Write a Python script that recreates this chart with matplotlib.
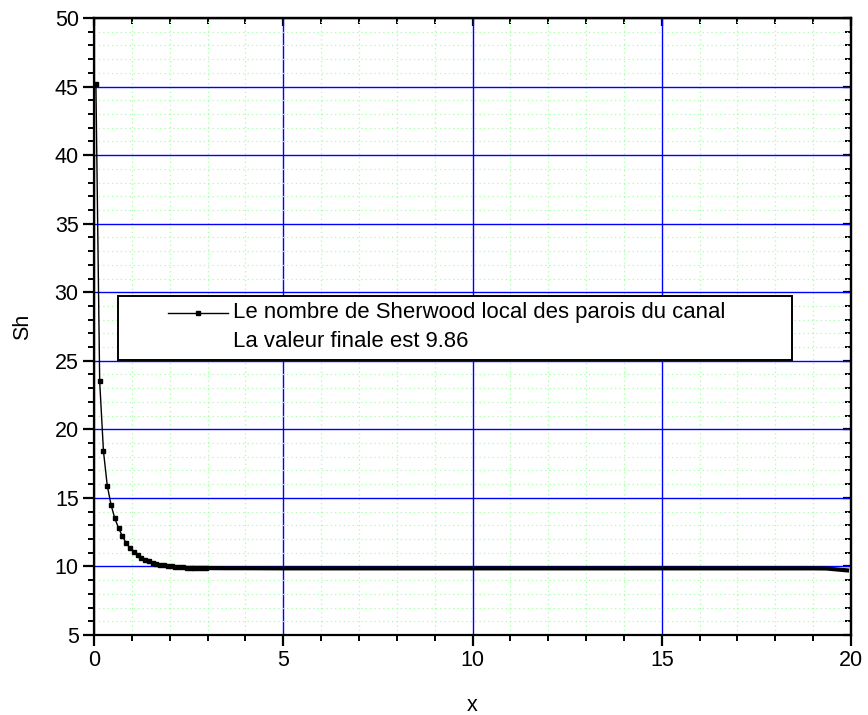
import matplotlib
matplotlib.use("Agg")
import matplotlib.pyplot as plt
from matplotlib.patches import Rectangle
from matplotlib.ticker import MultipleLocator

plt.rcParams['font.family'] = ['Liberation Sans', 'DejaVu Sans']

# local Sherwood number along the channel wall
x_head = [0.05, 0.15, 0.25, 0.35, 0.45, 0.55, 0.65, 0.75, 0.85, 0.95,
          1.05, 1.15, 1.25, 1.35, 1.45, 1.55, 1.65, 1.75, 1.85, 1.95,
          2.05, 2.15, 2.25, 2.35, 2.45, 2.55, 2.65, 2.75, 2.85, 2.95]
sh_head = [45.2, 23.5, 18.4, 15.9, 14.5, 13.5, 12.8, 12.2, 11.7, 11.35,
           11.05, 10.82, 10.63, 10.49, 10.38, 10.28, 10.2, 10.13, 10.08, 10.04,
           10.0, 9.97, 9.95, 9.93, 9.92, 9.91, 9.9, 9.89, 9.88, 9.88]

# flat part of the curve, where the markers merge into a thick line
x_tail = [2.95, 3.5, 4.0, 5.0, 6.0, 7.0, 8.0, 9.0, 10.0, 11.0, 12.0,
          13.0, 14.0, 15.0, 16.0, 17.0, 18.0, 19.0, 19.35, 19.55, 19.75, 19.95]
sh_tail = [9.88, 9.87, 9.87, 9.86, 9.86, 9.86, 9.86, 9.86, 9.86, 9.86, 9.86,
           9.86, 9.86, 9.86, 9.86, 9.86, 9.86, 9.86, 9.85, 9.8, 9.75, 9.7]

legend_lines = ["Le nombre de Sherwood local des parois du canal",
                "La valeur finale est 9.86"]

fig = plt.figure(figsize=(8.68, 7.15), dpi=100)
ax = fig.add_axes([94 / 868, 1 - 635 / 715, 757 / 868, 617 / 715])

ax.set_xlim(0, 20)
ax.set_ylim(5, 50)

# grid: blue major, green dotted minor
ax.xaxis.set_major_locator(MultipleLocator(5))
ax.xaxis.set_minor_locator(MultipleLocator(1))
ax.yaxis.set_major_locator(MultipleLocator(5))
ax.yaxis.set_minor_locator(MultipleLocator(1))
ax.set_axisbelow(True)
ax.grid(which='minor', color='#a6ffa6', linestyle=(0, (1, 2.5)), linewidth=0.9)
ax.grid(which='major', color='#0000ff', linestyle='-', linewidth=1.0)

# curve
ax.plot(x_head, sh_head, color='black', linewidth=1.0, marker='s',
        markersize=2.4, zorder=3)
ax.plot(x_tail, sh_tail, color='black', linewidth=3.0, solid_capstyle='butt',
        zorder=3)

# ticks: left/bottom outward, top/right inward
for sp in ax.spines.values():
    sp.set_linewidth(1.6)
ax.tick_params(which='major', direction='out', length=8, width=1.6,
               labelsize=15.5, pad=3)
ax.tick_params(which='minor', direction='out', length=4.5, width=1.4)

top = ax.secondary_xaxis('top')
top.xaxis.set_major_locator(MultipleLocator(5))
top.xaxis.set_minor_locator(MultipleLocator(1))
top.tick_params(which='major', direction='in', length=5.5, width=1.6, labeltop=False)
top.tick_params(which='minor', direction='in', length=4.5, width=1.4)
top.spines['top'].set_linewidth(1.6)

right = ax.secondary_yaxis('right')
right.yaxis.set_major_locator(MultipleLocator(5))
right.yaxis.set_minor_locator(MultipleLocator(1))
right.tick_params(which='major', direction='in', length=5.5, width=1.6, labelright=False)
right.tick_params(which='minor', direction='in', length=4.5, width=1.4)
right.spines['right'].set_linewidth(1.6)

ax.set_xlabel('x', fontsize=15.5)
ax.set_ylabel('Sh', fontsize=15.5)
ax.xaxis.set_label_coords(0.5, -0.097)
ax.yaxis.set_label_coords(-0.08, 0.5)

# legend box drawn by hand, like the Origin one
box = Rectangle((0.0317, 0.4457), 0.8903, 0.1037, transform=ax.transAxes,
                facecolor='white', edgecolor='black', linewidth=1.4, zorder=5)
ax.add_patch(box)
ax.plot([0.0978, 0.177], [0.5219, 0.5219], transform=ax.transAxes,
        color='black', linewidth=1.0, zorder=6)
ax.plot([0.1374], [0.5219], transform=ax.transAxes, color='black',
        marker='s', markersize=3.2, zorder=6)
ax.text(0.1836, 0.5219, legend_lines[0], transform=ax.transAxes,
        fontsize=15.9, va='center', ha='left', zorder=6)
ax.text(0.1836, 0.4749, legend_lines[1], transform=ax.transAxes,
        fontsize=15.9, va='center', ha='left', zorder=6)

fig.savefig('out.png', dpi=100)
